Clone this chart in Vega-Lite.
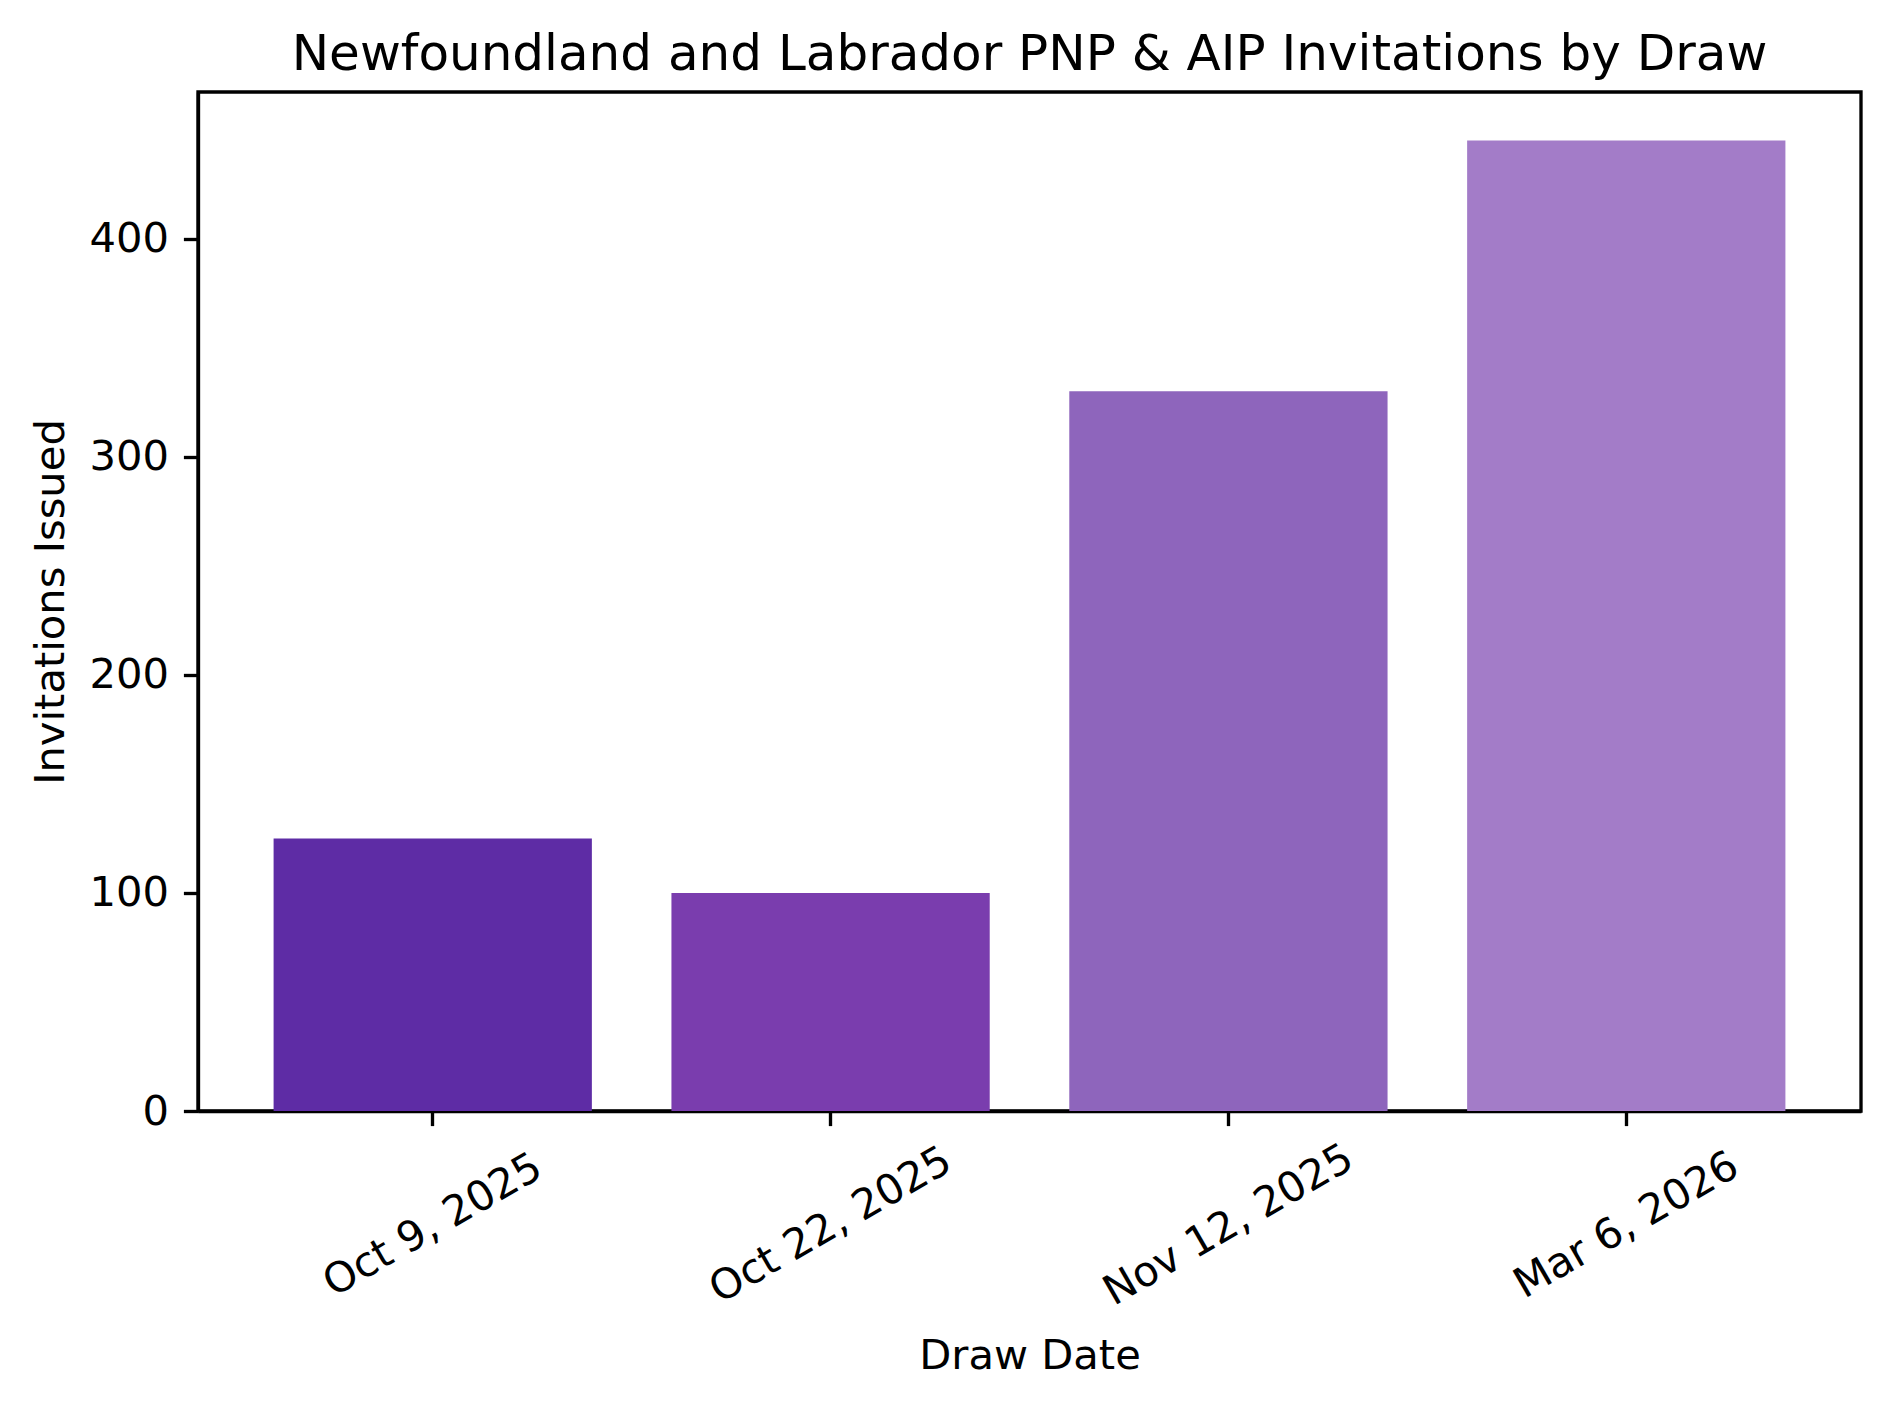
{
  "$schema": "https://vega.github.io/schema/vega-lite/v6.json",
  "width": 1663,
  "height": 1019,
  "autosize": {"type": "none"},
  "padding": {"left": 198, "top": 92, "right": 29, "bottom": 295},
  "background": "white",
  "title": {
    "text": "Newfoundland and Labrador PNP & AIP Invitations by Draw",
    "font": "DejaVu Sans",
    "fontSize": 50,
    "fontWeight": "normal",
    "color": "black",
    "offset": 12,
    "anchor": "middle"
  },
  "config": {
    "view": {"stroke": "black", "strokeWidth": 3.33},
    "axis": {
      "labelFont": "DejaVu Sans",
      "titleFont": "DejaVu Sans",
      "labelFontSize": 41.67,
      "titleFontSize": 41.67,
      "titleFontWeight": "normal",
      "labelColor": "black",
      "titleColor": "black",
      "tickColor": "black",
      "tickWidth": 3.33,
      "tickSize": 14.6,
      "domainColor": "black",
      "domainWidth": 3.33,
      "labelLimit": 0,
      "grid": false
    }
  },
  "data": {
    "values": [
      {"draw": "Oct 9, 2025", "invitations": 125},
      {"draw": "Oct 22, 2025", "invitations": 100},
      {"draw": "Nov 12, 2025", "invitations": 330},
      {"draw": "Mar 6, 2026", "invitations": 445}
    ]
  },
  "mark": {"type": "bar"},
  "encoding": {
    "x": {
      "field": "draw",
      "type": "nominal",
      "sort": null,
      "scale": {"paddingInner": 0.2, "paddingOuter": 0.19},
      "axis": {
        "title": "Draw Date",
        "labelAngle": -30,
        "labelAlign": "center",
        "labelBaseline": "middle",
        "labelPadding": 99,
        "titleBaseline": "top",
        "titleY": 224
      }
    },
    "y": {
      "field": "invitations",
      "type": "quantitative",
      "scale": {"domain": [0, 467.25], "nice": false},
      "axis": {
        "title": "Invitations Issued",
        "values": [0, 100, 200, 300, 400],
        "labelPadding": 15,
        "titlePadding": 16
      }
    },
    "color": {
      "field": "draw",
      "type": "nominal",
      "sort": null,
      "scale": {
        "domain": ["Oct 9, 2025", "Oct 22, 2025", "Nov 12, 2025", "Mar 6, 2026"],
        "range": ["#5e2ca5", "#7a3dae", "#8e65bc", "#a37cc8"]
      },
      "legend": null
    }
  }
}
